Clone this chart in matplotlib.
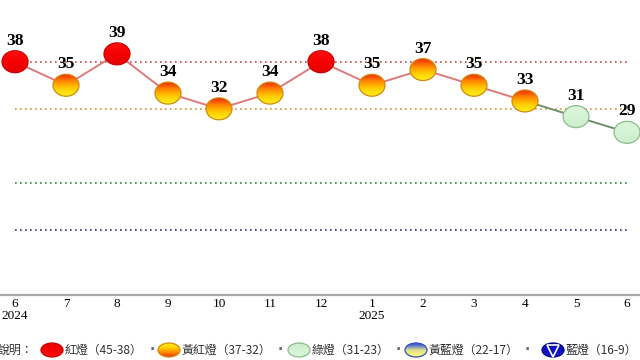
import numpy as np
import matplotlib
matplotlib.use("Agg")
import matplotlib.pyplot as plt
from matplotlib.patches import Ellipse
from matplotlib.colors import to_rgb

# data
months = ['6\n2024', '7', '8', '9', '10', '11', '12', '1\n2025', '2', '3', '4', '5', '6']
scores = [38, 35, 39, 34, 32, 34, 38, 35, 37, 35, 33, 31, 29]
thresholds = [38, 32, 22.6, 16.6]
threshold_colors = ['#c84848', '#e0903a', '#2a8a3a', '#30307a']
legend_labels = ['紅燈（45-38）', '黃紅燈（37-32）', '綠燈（31-23）', '黃藍燈（22-17）', '藍燈（16-9）']

# light styles: gradient stops (top -> bottom) and edge colour
styles = {
    'red': (['#ff1010', '#f40000', '#e80000'], '#d00000'),
    'yr': (['#f02a00', '#ff8a00', '#ffd000', '#fff020'], '#d08a10'),
    'green': (['#dcf7dc', '#d4f2d4', '#cdeecd'], '#8cbc8c'),
    'yb': (['#ffff70', '#e0e090', '#2040e0'], '#3050c0'),
    'blue': (['#1818d0', '#1010c0', '#0808b0'], '#000080'),
}


def light_of(v):
    if v >= 38:
        return 'red'
    if v >= 32:
        return 'yr'
    if v >= 23:
        return 'green'
    if v >= 17:
        return 'yb'
    return 'blue'


def gradient(stops, n=64):
    cols = np.array([to_rgb(c) for c in stops])
    t = np.linspace(0, 1, n)
    pos = np.linspace(0, 1, len(stops))
    arr = np.stack([np.interp(t, pos, cols[:, k]) for k in range(3)], axis=1)
    return arr[:, None, :]


def draw_light(ax, x, y, w, h, kind, z=5):
    stops, edge = styles[kind]
    clip = Ellipse((x, y), w, h, transform=ax.transData)
    im = ax.imshow(gradient(stops), extent=[x - w / 2, x + w / 2, y - h / 2, y + h / 2],
                   origin='upper', aspect='auto', zorder=z, interpolation='bilinear')
    im.set_clip_path(clip)
    ax.add_patch(Ellipse((x, y), w, h, facecolor='none', edgecolor=edge, lw=0.9, zorder=z + 0.1))


fig = plt.figure(figsize=(6.4, 3.6), dpi=100)
ax = fig.add_axes([0, 65 / 360, 1, 295 / 360])

x = np.arange(len(scores))

for t, c in zip(thresholds, threshold_colors):
    ax.plot([x[0], x[-1]], [t, t], color=c, lw=1.2, ls=(0, (1, 2)), zorder=1)

for i in range(len(scores) - 1):
    col = '#6f8f6f' if light_of(scores[i + 1]) == 'green' else '#e07a7a'
    ax.plot(x[i:i + 2], scores[i:i + 2], color=col, lw=1.4, zorder=2)

for xi, v in zip(x, scores):
    draw_light(ax, xi, v, 0.51, 2.8, light_of(v))
    ax.annotate(str(v), (xi, v), xytext=(0, 17), textcoords='offset pixels',
                ha='center', va='baseline', fontsize=12.5, fontweight='bold',
                family='Liberation Serif', color='black', zorder=6)

ax.set_xlim(-15 / 51, 12 + 13 / 51)
ax.set_ylim(8.28, 45.86)
for s in ['top', 'left', 'right']:
    ax.spines[s].set_visible(False)
ax.spines['bottom'].set_color('#a8a8a8')
ax.spines['bottom'].set_linewidth(1.6)
ax.set_yticks([])
ax.set_xticks(x)
ax.set_xticklabels(months, family='Liberation Serif', fontsize=9.5)
ax.tick_params(axis='x', length=0, pad=2)
for lbl in ax.get_xticklabels():
    lbl.set_linespacing(1.05)

# legend strip, in pixel units
lax = fig.add_axes([0, 0, 1, 65 / 360])
lax.set_xlim(0, 640)
lax.set_ylim(360, 295)
lax.axis('off')
cjk = ['Noto Sans CJK TC', 'DejaVu Sans']
ly = 350
lax.text(-3, ly, '說明：', family=cjk, fontsize=8.6, color='#333333', va='center', ha='left')
marker_x = [52, 169, 299, 416, 553]
comma_x = [152, 280, 398, 527]
kinds = ['red', 'yr', 'green', 'yb', 'blue']
for mx, kind, lab in zip(marker_x, kinds, legend_labels):
    draw_light(lax, mx, ly, 22, 14, kind)
    lax.text(mx + 13, ly, lab, family=cjk, fontsize=8.6, color='#333333', va='center', ha='left')
lax.plot(marker_x[-1], ly + 1, marker='v', ms=8, mfc='#1010c0', mec='white', mew=1.2, zorder=7)
for cx in comma_x:
    lax.text(cx, ly, '·', family='DejaVu Sans', fontsize=10, fontweight='bold',
             color='#666666', va='center', ha='center')
lax.set_xlim(0, 640)
lax.set_ylim(360, 295)

fig.savefig('out.png', dpi=100)
